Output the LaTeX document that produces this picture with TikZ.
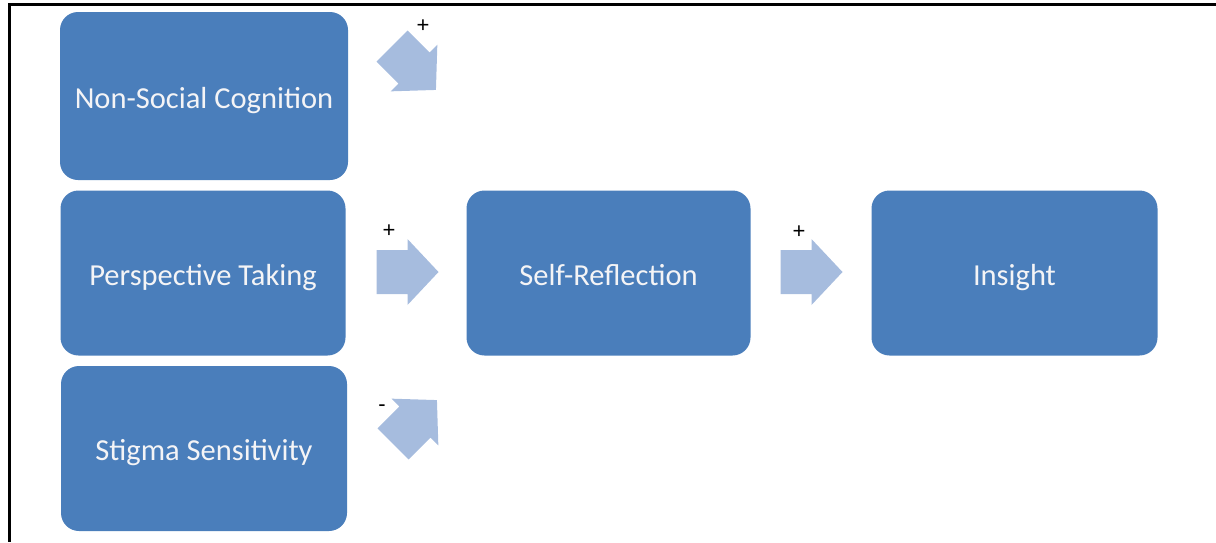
\documentclass[tikz,border=0pt]{standalone}
\usepackage{fontspec}
\setmainfont{Carlito}
\newfontfamily\signfont{Liberation Sans}
\definecolor{boxblue}{RGB}{74,126,187}
\definecolor{arrowblue}{RGB}{166,188,222}
\definecolor{txtwhite}{RGB}{244,244,246}
\begin{document}
\begin{tikzpicture}[x=1pt,y=-1pt,
  blockbox/.style={fill=boxblue,draw=none,rounded corners=18pt,text=txtwhite,
    font=\fontsize{30.5}{36}\selectfont,inner sep=0pt,text height=24pt,text depth=0pt},
  signlbl/.style={font=\signfont\fontsize{22}{24}\selectfont,text=black,inner sep=0pt},
  blockarrow/.style={fill=arrowblue,draw=none}]
\useasboundingbox (0,0) rectangle (1216,542);
\draw[line width=2.2pt,black] (1216,4.5) -- (9.5,4.5) -- (9.5,542);
% boxes
\node[blockbox,minimum width=288pt,minimum height=168pt] (nsc) at (204,96) {Non-Social Cognition};
\node[blockbox,minimum width=285pt,minimum height=165pt] (pt) at (203,273) {Perspective Taking};
\node[blockbox,minimum width=286pt,minimum height=165pt] (ss) at (204,448.5) {Stigma Sensitivity};
\node[blockbox,minimum width=284pt,minimum height=165pt] (sr) at (608.5,273) {Self-Reflection};
\node[blockbox,minimum width=286pt,minimum height=165pt] (ins) at (1014.5,273) {Insight};
% arrows: shape centered at origin, pointing right
\def\arrshape{(-31,-22) -- (0,-22) -- (0,-33) -- (31,0) -- (0,33) -- (0,22) -- (-31,22) -- cycle}
\fill[blockarrow,shift={(407.5,272)}] \arrshape;
\fill[blockarrow,shift={(811.5,272)}] \arrshape;
\fill[blockarrow,shift={(414,68)},rotate=-45] \arrshape;
\fill[blockarrow,shift={(415,422)},rotate=45] \arrshape;
% signs
\node[signlbl] (s1) at (423,26) {+};
\node[signlbl] (s2) at (389,231) {+};
\node[signlbl] (s3) at (382,408) {-};
\node[signlbl] (s4) at (799,232) {+};
\end{tikzpicture}
\end{document}
